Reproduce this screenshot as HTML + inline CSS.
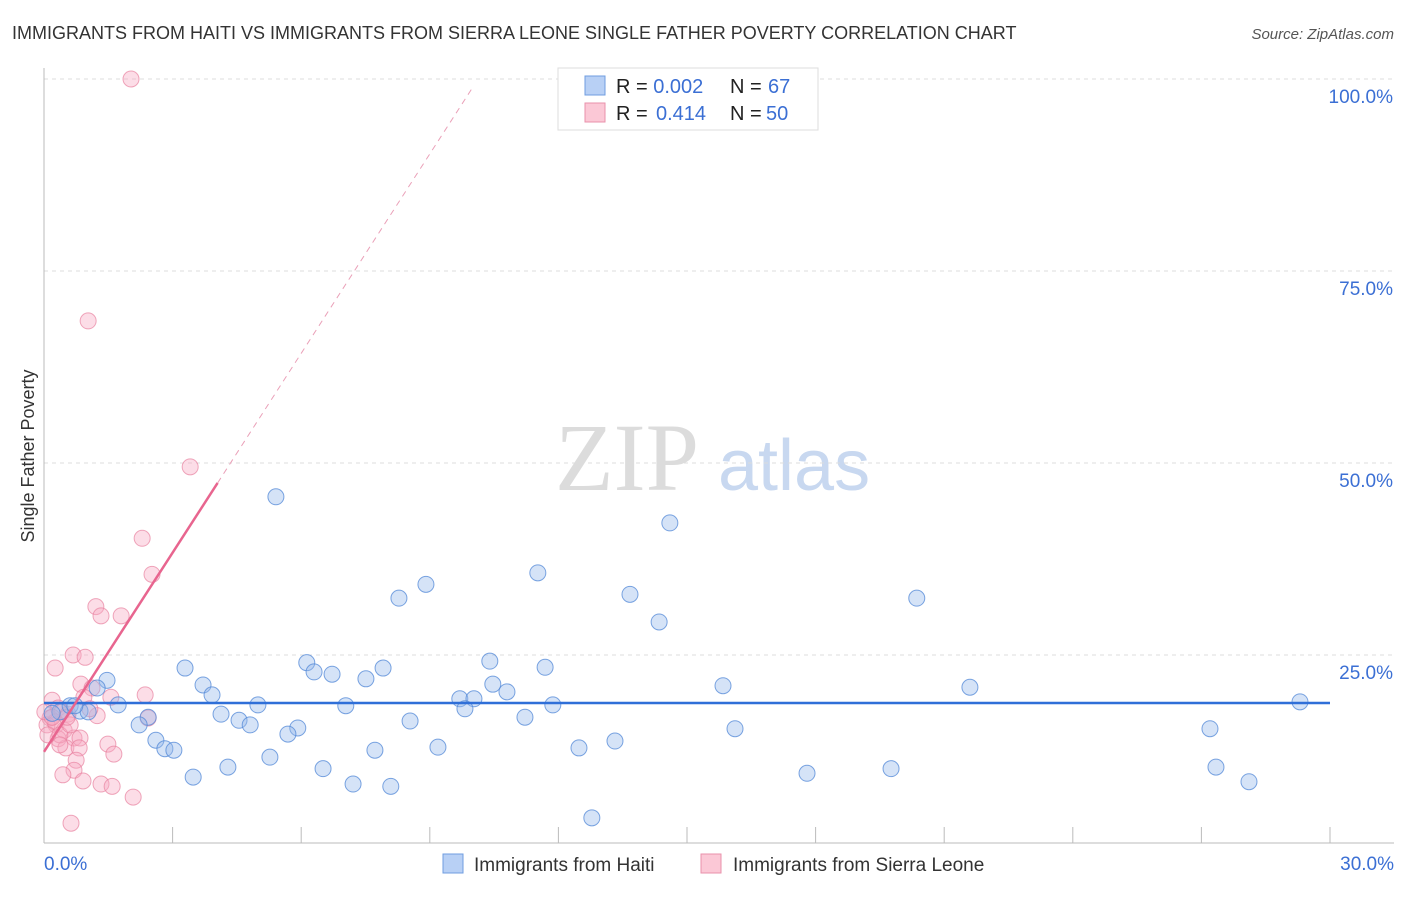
<!DOCTYPE html>
<html><head><meta charset="utf-8"><style>
body{margin:0;background:#fff;font-family:"Liberation Sans",sans-serif}
</style></head><body>
<svg width="1406" height="892" viewBox="0 0 1406 892" xmlns="http://www.w3.org/2000/svg" font-family="Liberation Sans, sans-serif">
<text x="12" y="39" font-size="18" fill="#333">IMMIGRANTS FROM HAITI VS IMMIGRANTS FROM SIERRA LEONE SINGLE FATHER POVERTY CORRELATION CHART</text>
<text x="1394" y="39" font-size="15" fill="#555" text-anchor="end" font-style="italic">Source: ZipAtlas.com</text>
<text x="555" y="490" font-size="96" fill="#dcdcdc" font-family="Liberation Serif, serif">ZIP</text>
<text x="718" y="490" font-size="72" fill="#c8d8f0">atlas</text>
<text transform="translate(34,456) rotate(-90)" font-size="18" fill="#333" text-anchor="middle">Single Father Poverty</text>
<g id="grid"></g><g id="axes"></g><g id="marks"></g>
<g>
<rect x="558" y="68" width="260" height="62" fill="#fff" stroke="#ddd"/>
<rect x="585" y="76" width="20" height="19" fill="#b8d0f5" stroke="#6f9de0"/>
<rect x="585" y="103" width="20" height="19" fill="#fbc8d6" stroke="#e891ab"/>
<text x="616" y="93" font-size="20" fill="#222">R = <tspan fill="#3b6fd4">0.002</tspan><tspan x="730">N = </tspan><tspan x="768" fill="#3b6fd4">67</tspan></text>
<text x="616" y="120" font-size="20" fill="#222">R = <tspan x="656" fill="#3b6fd4">0.414</tspan><tspan x="730">N = </tspan><tspan x="766" fill="#3b6fd4">50</tspan></text>
</g>
<g>
<rect x="443" y="854" width="20" height="19" fill="#b8d0f5" stroke="#6f9de0"/>
<text x="474" y="871" font-size="19" fill="#333">Immigrants from Haiti</text>
<rect x="701" y="854" width="20" height="19" fill="#fbc8d6" stroke="#e891ab"/>
<text x="733" y="871" font-size="19" fill="#333">Immigrants from Sierra Leone</text>
</g>
</svg>
<script>
const xTicks=[0,30];
const xTickLabels=["0.0%","30.0%"];
const yTicks=[25,50,75,100];
const yTickLabels=["25.0%","50.0%","75.0%","100.0%"];
const haitiX=[5.41,14.6,11.52,8.91,8.28,13.67,20.36,14.35,3.29,6.13,6.30,6.72,7.91,10.4,11.69,1.47,1.24,3.71,3.92,7.51,10.47,10.8,9.70,10.03,15.84,21.6,29.3,1.73,4.99,7.04,9.82,11.87,2.43,4.13,4.55,4.81,2.22,8.54,11.22,5.92,5.69,16.12,27.2,2.61,2.82,3.03,9.19,7.72,12.48,13.32,5.27,4.29,6.51,3.48,17.8,19.76,27.34,7.21,8.09,28.11,12.78,0.37,0.61,0.84,1.03,0.72,0.19];
const haitiY=[45.6,42.2,35.7,34.2,32.4,32.9,32.4,29.3,23.3,24.0,22.8,22.5,23.3,24.2,23.4,21.7,20.7,21.1,19.8,21.9,21.2,20.2,19.3,19.3,21.0,20.8,18.9,18.5,18.5,18.4,18.0,18.5,16.9,17.3,16.5,15.9,15.9,16.4,16.9,15.5,14.7,15.4,15.4,13.9,12.8,12.6,13.0,12.6,12.9,13.8,11.7,10.4,10.2,9.1,9.6,10.2,10.4,8.2,7.9,8.5,3.8,17.6,18.4,17.7,17.6,18.4,17.4];
const sleoneX=[2.03,1.03,3.41,2.29,2.52,1.21,1.33,1.80,0.26,0.68,0.96,0.86,1.12,0.93,0.19,0.33,2.36,1.56,2.43,0.14,0.42,0.56,1.24,1.07,0.28,0.47,0.70,0.33,0.51,0.84,0.82,1.49,1.63,0.75,0.70,0.44,0.91,1.33,1.59,2.08,0.63,0.07,0.26,0.09,0.37,0.61,0.02,0.19,0.54,0.37];
const sleoneY=[100,68.5,49.5,40.2,35.5,31.3,30.1,30.1,23.3,25.0,24.7,21.2,20.7,19.5,19.1,18.1,19.8,19.5,16.8,16.8,17.6,17.3,17.1,18.0,15.9,15.2,14.2,14.1,12.9,14.2,12.9,13.4,12.1,11.3,10.0,9.4,8.6,8.2,7.9,6.5,3.1,15.9,16.3,14.6,14.6,15.9,17.6,16.9,16.9,13.3];
const haitiTrend=[0,18.75,30,18.75];
const sleoneTrend=[0,12.4,4.05,47.4,10,98.9];
const NS="http://www.w3.org/2000/svg";
const sx=v=>44+v*1286/30, sy=v=>847-v*7.68;
function mk(p,t,a){const e=document.createElementNS(NS,t);for(const k in a)e.setAttribute(k,a[k]);p.appendChild(e);return e;}
const grid=document.getElementById('grid'),axes=document.getElementById('axes'),marks=document.getElementById('marks');
yTicks.forEach((v,i)=>{
 const l=mk(grid,'line',{x1:44,x2:1394,y1:sy(v),y2:sy(v),stroke:'#ddd','stroke-dasharray':'4,4'});
 
 
 const t=mk(axes,'text',{x:1393,y:sy(v)+24,'font-size':19,fill:'#3b6fd4','text-anchor':'end'});t.textContent=yTickLabels[i];
 
 
});
const ax=mk(axes,'line',{x1:44,x2:44,y1:68,y2:843,stroke:'#bbb'});


const bx=mk(axes,'line',{x1:44,x2:1394,y1:843,y2:843,stroke:'#bbb'});


for(let i=0;i<=10;i++){const tk=mk(axes,'line',{x1:sx(i*3),x2:sx(i*3),y1:827,y2:843,stroke:'#bbb'});
 
 }
xTicks.forEach((v,i)=>{const t=mk(axes,'text',{x:v===0?44:1394,y:870,'font-size':19,fill:'#3b6fd4','text-anchor':v===0?'start':'end'});t.textContent=xTickLabels[i];
 
 });
sleoneX.forEach((x,i)=>{const c=mk(marks,'circle',{cx:sx(x),cy:sy(sleoneY[i]),r:8,fill:'rgba(248,170,195,0.4)',stroke:'rgba(232,130,160,0.7)','stroke-width':1});
 
 });
haitiX.forEach((x,i)=>{const c=mk(marks,'circle',{cx:sx(x),cy:sy(haitiY[i]),r:8,fill:'rgba(150,185,235,0.4)',stroke:'rgba(80,135,215,0.75)','stroke-width':1});
 
 });
const hl=mk(marks,'line',{x1:sx(haitiTrend[0]),y1:sy(haitiTrend[1]),x2:sx(haitiTrend[2]),y2:sy(haitiTrend[3]),stroke:'#2f6fd8','stroke-width':2.5});


const sl=mk(marks,'line',{x1:sx(sleoneTrend[0]),y1:sy(sleoneTrend[1]),x2:sx(sleoneTrend[2]),y2:sy(sleoneTrend[3]),stroke:'#e8658f','stroke-width':2.5});


const sd=mk(marks,'line',{x1:sx(sleoneTrend[2]),y1:sy(sleoneTrend[3]),x2:sx(sleoneTrend[4]),y2:sy(sleoneTrend[5]),stroke:'#eaa0b8','stroke-width':1,'stroke-dasharray':'6,5'});


</script>
</body></html>
